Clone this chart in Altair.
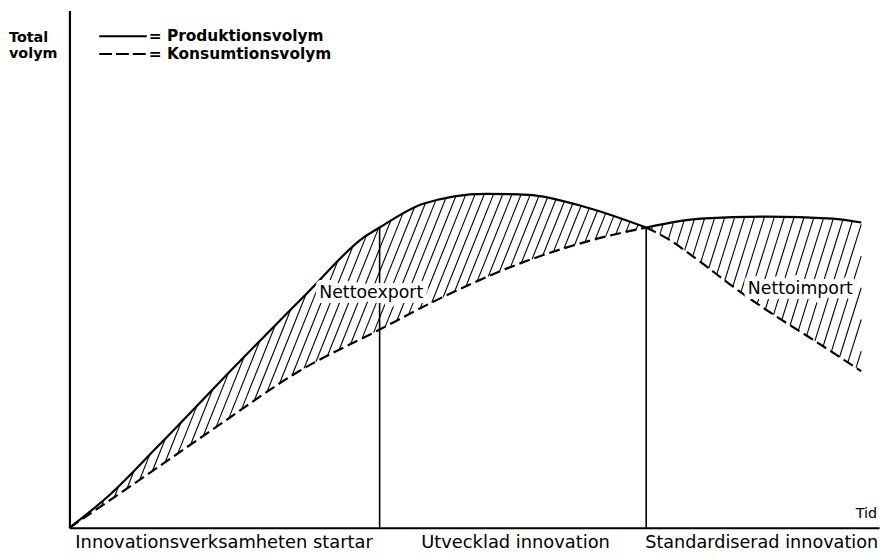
import altair as alt
import numpy as np
import pandas as pd

# ---- data (time on x, total volume on y; arbitrary units) ----
# phases 1-2: production (solid) above consumption (dashed)
prod_t = [0, 37, 90, 172, 240, 297, 313, 357, 420, 463, 523, 582]
prod_v = [0, 30, 83, 168, 237, 293, 303, 327, 337, 336, 323, 303]
cons_t = [0, 63, 150, 230, 313, 367, 450, 530, 582]
cons_v = [0, 43, 103, 157, 200, 228, 265, 291, 303]
# phase 3 (standardised innovation)
std_upper_t = [582, 637, 703, 770, 799]
std_upper_v = [303, 312, 314, 312, 308]
std_lower_t = [582, 603, 637, 670, 703, 750, 799]
std_lower_v = [303, 292, 268, 243, 220, 190, 158]

phase_bounds = [313, 582]
phase_labels = ["Innovationsverksamheten startar", "Utvecklad innovation",
                "Standardiserad innovation"]
legend_labels = ["= Produktionsvolym", "= Konsumtionsvolym"]
region_labels = ["Nettoexport", "Nettoimport"]
x_max, y_max = 817, 522


# ---- monotone-x cubic (same as d3/vega "monotone") for hatch geometry ----
def mono_slopes(x, y):
    x = np.asarray(x, float); y = np.asarray(y, float)
    n = len(x); h = np.diff(x); s = np.diff(y) / h
    t = np.zeros(n)
    for i in range(1, n - 1):
        p = (s[i - 1] * h[i] + s[i] * h[i - 1]) / (h[i - 1] + h[i])
        t[i] = (np.sign(s[i - 1]) + np.sign(s[i])) * min(abs(s[i - 1]), abs(s[i]), 0.5 * abs(p))
    if n > 2:
        t[0] = (3 * s[0] - t[1]) / 2
        t[-1] = (3 * s[-1] - t[-2]) / 2
    else:
        t[:] = s[0]
    return t


def mono_eval(xs, ys, xq):
    xs = np.asarray(xs, float); ys = np.asarray(ys, float); xq = np.asarray(xq, float)
    t = mono_slopes(xs, ys)
    i = np.clip(np.searchsorted(xs, xq, side="right") - 1, 0, len(xs) - 2)
    h = xs[i + 1] - xs[i]
    u = (xq - xs[i]) / h
    h00 = 2 * u**3 - 3 * u**2 + 1; h10 = u**3 - 2 * u**2 + u
    h01 = -2 * u**3 + 3 * u**2; h11 = u**3 - u**2
    return h00 * ys[i] + h10 * h * t[i] + h01 * ys[i + 1] + h11 * h * t[i + 1]


def hatch(ut, uv, lt, lv, s, step, phase):
    x0 = max(ut[0], lt[0]); x1 = min(ut[-1], lt[-1])
    xd = np.linspace(x0, x1, 3000)
    yu = mono_eval(ut, uv, xd); yl = mono_eval(lt, lv, xd)
    cu = xd - yu / s; cl = xd - yl / s
    rows = []
    c = cl[0] + phase
    while c < cl[-1]:
        xl = np.interp(c, cl, xd); ylv = np.interp(xl, xd, yl)
        if c <= cu[-1]:
            xu = np.interp(c, cu, xd); yuv = np.interp(xu, xd, yu)
        else:
            xu = x1; yuv = (x1 - c) * s
        if yuv - ylv > 1.5:
            rows.append({"x": float(xl), "y": float(ylv), "x2": float(xu), "y2": float(yuv)})
        c += step
    return rows


hatch_df = pd.DataFrame(
    hatch(prod_t, prod_v, cons_t, cons_v, 2.5, 9.3, 5)
    + hatch(std_upper_t, std_upper_v, std_lower_t, std_lower_v, 3.2, 10.0, 6)
)

prod_df = pd.DataFrame({"t": prod_t, "v": prod_v})
cons_df = pd.DataFrame({"t": cons_t, "v": cons_v})
up_df = pd.DataFrame({"t": std_upper_t, "v": std_upper_v})
lo_df = pd.DataFrame({"t": std_lower_t, "v": std_lower_v})
bound_df = pd.DataFrame({"t": phase_bounds, "base": [0, 0],
                         "top": [float(v) for v in mono_eval(prod_t, prod_v, phase_bounds)]})

xs = alt.Scale(domain=[0, x_max], nice=False, zero=False)
ys = alt.Scale(domain=[0, y_max], nice=False, zero=False)
FONT = "DejaVu Sans"
ONE = alt.Data(values=[{"k": 1}])

hatch_layer = alt.Chart(hatch_df).mark_rule(color="black", strokeWidth=1.1).encode(
    x=alt.X("x:Q", scale=xs, title=None), y=alt.Y("y:Q", scale=ys, title=None),
    x2="x2:Q", y2="y2:Q")


def curve(df, dashed):
    kw = dict(color="black", strokeWidth=2.2, interpolate="monotone")
    if dashed:
        kw["strokeDash"] = [11, 5]
    return alt.Chart(df).mark_line(**kw).encode(
        x=alt.X("t:Q", scale=xs, title=None), y=alt.Y("v:Q", scale=ys, title=None),
        order="t:Q")


bounds = alt.Chart(bound_df).mark_rule(color="black", strokeWidth=1.6).encode(
    x=alt.X("t:Q", scale=xs, title=None), y=alt.Y("base:Q", scale=ys, title=None),
    y2="top:Q")


def txt(text, x, y, size, align="left", weight="normal", halo=False):
    kw = dict(text=text, font=FONT, fontSize=size, align=align, baseline="alphabetic",
              fontWeight=weight, color="black")
    layers = []
    if halo:
        layers.append(alt.Chart(ONE).mark_text(stroke="white", strokeWidth=10,
                                               strokeJoin="round", **kw).encode(
            x=alt.value(x), y=alt.value(y)))
    layers.append(alt.Chart(ONE).mark_text(**kw).encode(x=alt.value(x), y=alt.value(y)))
    return layers


legend_solid = alt.Chart(ONE).mark_rule(color="black", strokeWidth=2).encode(
    x=alt.value(30), x2=alt.value(78), y=alt.value(26))
legend_dash = alt.Chart(ONE).mark_rule(color="black", strokeWidth=2, strokeDash=[13, 4]).encode(
    x=alt.value(30), x2=alt.value(78), y=alt.value(44))

texts = []
texts += txt("Total", -61, 32, 14.5, weight="bold")
texts += txt("volym", -61, 48, 14.5, weight="bold")
texts += txt(legend_labels[0], 80, 31, 15.5, weight="bold")
texts += txt(legend_labels[1], 80, 49, 15.5, weight="bold")
texts += txt(region_labels[0], 304.5, 290, 17.5, align="center", halo=True)
texts += txt(region_labels[1], 737.5, 286, 17.5, align="center", halo=True)
texts += txt(phase_labels[0], 156, 542, 18, align="center")
texts += txt(phase_labels[1], 355, 542, 18)
texts += txt(phase_labels[2], 581, 542, 17.8)
texts += txt("Tid", 815, 512, 14.5, align="right")

chart = alt.layer(
    hatch_layer, bounds,
    curve(prod_df, False), curve(cons_df, True),
    curve(up_df, False), curve(lo_df, True),
    legend_solid, legend_dash, *texts,
).properties(
    width=x_max, height=y_max,
    padding={"left": 62, "top": 0, "right": 9, "bottom": 29},
    autosize="none",
).configure_view(stroke=None).configure_axis(
    domainColor="black", domainWidth=2.2, ticks=False, labels=False, grid=False,
    title=None)

chart.save("out.html", embed_options={"renderer": "svg", "actions": False})
